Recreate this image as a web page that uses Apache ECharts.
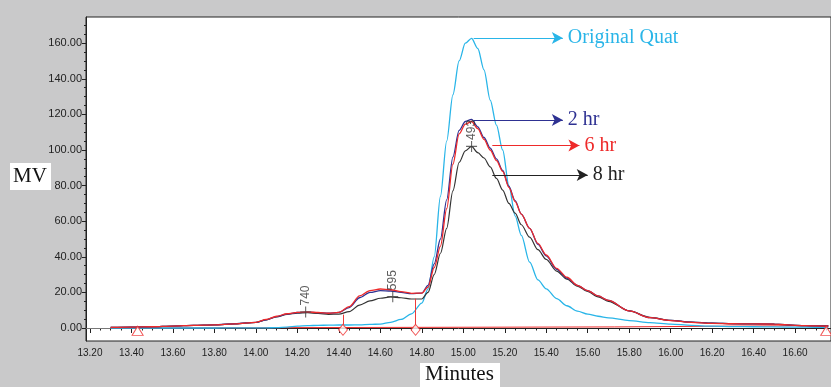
<!DOCTYPE html>
<html>
<head>
<meta charset="utf-8">
<script src="https://cdn.jsdelivr.net/npm/echarts@6/dist/echarts.min.js"></script>
<style>
  html, body { margin: 0; padding: 0; background: #c9c9ca; }
  #main { width: 831px; height: 387px; }
</style>
</head>
<body>
<div id="main"></div>
<script>
// retention time (minutes) shared by all traces
var minutes = [13.30, 13.40, 13.50, 13.60, 13.70, 13.80, 13.90, 14.00, 14.05, 14.10,
  14.15, 14.20, 14.25, 14.30, 14.35, 14.40, 14.45, 14.50, 14.55, 14.60,
  14.65, 14.70, 14.75, 14.80, 14.83, 14.86, 14.89, 14.92, 14.95, 14.98,
  15.01, 15.04, 15.07, 15.10, 15.13, 15.16, 15.19, 15.22, 15.25, 15.28,
  15.32, 15.36, 15.40, 15.45, 15.50, 15.55, 15.60, 15.65, 15.70, 15.80,
  15.90, 16.00, 16.10, 16.20, 16.30, 16.40, 16.50, 16.60, 16.70, 16.76];

var originalQuat = [0, 0, 0, 0, 0, 0, 0.1, 0.1, 0.1, 0.2,
  0.5, 1.0, 1.3, 1.5, 1.6, 1.7, 1.7, 1.8, 2.0, 2.2,
  3.2, 4.8, 7.9, 14, 22, 40, 74, 105, 131, 150,
  160, 162.7, 157, 145, 128, 114, 100, 80, 63, 52,
  37, 27, 22, 16.5, 12.5, 9.5, 7.8, 6.6, 5.7, 4.2,
  3.0, 2.2, 1.5, 1.0, 0.8, 0.7, 0.6, 0.5, 0.4, 0.3];

var hr2 = [0.3, 0.5, 0.7, 1.1, 1.5, 1.8, 2.4, 3.2, 4.6, 6.4,
  7.8, 8.7, 8.9, 8.6, 8.3, 8.8, 11.5, 17, 20, 21,
  20.8, 20, 19.3, 19.6, 24, 36, 50, 72, 96, 111,
  116, 117.2, 113, 107, 101, 95, 88.5, 79.5, 71.5, 64,
  56, 47, 40.5, 33, 28, 24, 21, 18, 15.5, 9.6,
  5.8, 4.3, 3.3, 2.7, 2.4, 2.3, 2.2, 1.5, 1.2, 1.0];

var hr6 = [0.3, 0.5, 0.7, 1.1, 1.5, 1.8, 2.3, 3.2, 4.8, 6.6,
  8.0, 8.8, 9.0, 8.7, 8.3, 8.8, 12.0, 18.0, 21.0, 21.9,
  21.5, 20.4, 19.5, 19.6, 23, 34, 46, 67, 92, 109,
  114.5, 116, 112, 106, 100, 94, 88, 79, 71, 64,
  56, 47.5, 41, 33.5, 28.5, 24, 21, 18, 15.5, 9.6,
  5.8, 4.2, 3.2, 2.6, 2.4, 2.3, 2.2, 1.5, 1.2, 1.0];

var hr8 = [0.3, 0.5, 0.7, 1.1, 1.5, 1.8, 2.3, 3.1, 4.6, 6.3,
  7.6, 8.4, 8.6, 8.2, 7.7, 7.8, 9.2, 12.9, 15.2, 16.7,
  17.5, 17.0, 16.3, 16.3, 20, 30, 42, 56, 77, 93,
  99.5, 102, 98.5, 95.5, 90.5, 84, 77.5, 70, 64.5, 58,
  51, 44, 38.5, 32, 27.5, 23.5, 20.5, 17.5, 15, 9.6,
  6.0, 4.3, 3.3, 2.7, 2.4, 2.3, 2.2, 1.5, 1.2, 1.0];

// integration baseline and markers
var baseMinutes = [13.30, 15.73, 15.73, 16.76];
var baseValues = [0, 0.6, 1.1, 1.4];
var dropMinutes = [14.42, 14.77];
var dropTops = [7.5, 16.5];
var triMinutes = [13.43, 16.75];

// peak annotations
var peakMinutes = [14.24, 14.66, 15.04];
var peakValues = [9.0, 17.6, 102];
var peakLabels = ['740', '595', '493'];

var xMajor = [13.2, 13.4, 13.6, 13.8, 14.0, 14.2, 14.4, 14.6, 14.8, 15.0, 15.2, 15.4, 15.6, 15.8, 16.0, 16.2, 16.4, 16.6];
var yMajor = [0, 20, 40, 60, 80, 100, 120, 140, 160];

var xMinor = [];
for (var i = 0; i < xMajor.length; i++) {
  for (var k = 1; k < 4; k++) xMinor.push(+(xMajor[i] + k * 0.05).toFixed(2));
}
var yMinor = [];
for (var j = 0; j < yMajor.length; j++) {
  for (var m = 1; m < 4; m++) yMinor.push(yMajor[j] + m * 5);
}

function pairs(xs, ys) {
  return xs.map(function (x, i) { return [x, ys[i]]; });
}

var serif = '"Liberation Serif", "DejaVu Serif", serif';
var sans = '"Liberation Sans", Arial, sans-serif';

function arrow(color, text, x1, x2, y) {
  return {
    silent: true,
    symbol: ['none', 'arrow'],
    symbolSize: [9, 11],
    lineStyle: { color: color, width: 1.2, type: 'solid' },
    label: {
      show: true, position: 'end', distance: 5, formatter: text,
      color: color, fontFamily: serif, fontSize: 20
    },
    data: [[{ coord: [x1, y] }, { coord: [x2, y] }]]
  };
}

function trace(name, values, color, width, mark) {
  return {
    name: name, type: 'line', data: pairs(minutes, values),
    symbol: 'none', smooth: 0.3, smoothMonotone: 'x',
    lineStyle: { color: color, width: width },
    markLine: mark
  };
}

var X_MIN = 13.181, X_MAX = 16.773, Y_MIN = -7.3, Y_MAX = 174.7;

var myChart = echarts.init(document.getElementById('main'));

var option = {
  animation: false,
  backgroundColor: '#c9c9ca',
  grid: {
    left: 86, right: 0, top: 17, bottom: 46,
    show: true, backgroundColor: '#ffffff', borderColor: '#222', borderWidth: 1
  },
  xAxis: [{
    type: 'value', min: X_MIN, max: X_MAX,
    axisLine: { lineStyle: { color: '#222' } },
    axisTick: { customValues: xMajor, length: 5, lineStyle: { color: '#222' } },
    axisLabel: {
      customValues: xMajor, margin: 7, fontSize: 10, fontFamily: sans, color: '#222',
      formatter: function (v) { return v.toFixed(2); }
    },
    splitLine: { show: false }
  }, {
    type: 'value', min: X_MIN, max: X_MAX, position: 'bottom',
    axisLine: { show: false },
    axisTick: { customValues: xMinor, length: 2.5, lineStyle: { color: '#222' } },
    axisLabel: { show: false },
    splitLine: { show: false }
  }],
  yAxis: [{
    type: 'value', min: Y_MIN, max: Y_MAX,
    axisLine: { show: true, lineStyle: { color: '#222' } },
    axisTick: { show: true, customValues: yMajor, length: 4, lineStyle: { color: '#222' } },
    axisLabel: {
      customValues: yMajor, margin: 4, fontSize: 11, fontFamily: sans, color: '#222',
      formatter: function (v) { return v.toFixed(2); }
    },
    splitLine: { show: false }
  }, {
    type: 'value', min: Y_MIN, max: Y_MAX, position: 'left', offset: 0,
    axisLine: { show: false },
    axisTick: { show: true, customValues: yMinor, length: 2, lineStyle: { color: '#222' } },
    axisLabel: { show: false },
    splitLine: { show: false }
  }],
  graphic: [
    { type: 'rect', left: 10, top: 163, shape: { width: 41, height: 27 }, style: { fill: '#fff' }, z: 100 },
    { type: 'text', left: 13, top: 166, style: { text: 'MV', font: '21px ' + serif, fill: '#111' }, z: 101 },
    { type: 'rect', left: 420, top: 363, shape: { width: 80, height: 24 }, style: { fill: '#fff' }, z: 100 },
    { type: 'text', left: 425, top: 364, style: { text: 'Minutes', font: '21px ' + serif, fill: '#111' }, z: 101 }
  ],
  series: [
    {
      name: 'baseline', type: 'line', data: pairs(baseMinutes, baseValues),
      symbol: 'none', lineStyle: { color: '#ee2a2a', width: 1 }, z: 1,
      markLine: {
        silent: true, symbol: 'none', label: { show: false },
        lineStyle: { color: '#ee3a3a', width: 1, type: 'solid' },
        data: dropMinutes.map(function (x, i) {
          return [{ coord: [x, 0] }, { coord: [x, dropTops[i]] }];
        }).concat([[{ coord: [X_MIN, 0], lineStyle: { color: '#777' } }, { coord: [13.30, 0], lineStyle: { color: '#777' } }]])
      }
    },
    trace('Original Quat', originalQuat, '#29b5e8', 1.3, arrow('#29b5e8', 'Original Quat', 15.05, 15.48, 162.9)),
    trace('8 hr', hr8, '#333', 1.2, arrow('#222', '8 hr', 15.14, 15.60, 86)),
    trace('2 hr', hr2, '#2e3192', 1.3, arrow('#2e3192', '2 hr', 15.05, 15.48, 116.9)),
    trace('6 hr', hr6, '#ee2a2a', 1.3, arrow('#ee2a2a', '6 hr', 15.14, 15.56, 102.5)),
    {
      name: 'drops', type: 'scatter', data: dropMinutes.map(function (x) { return [x, -1]; }),
      symbol: 'diamond', symbolSize: [9, 11],
      itemStyle: { color: '#fff', borderColor: '#ee2a2a', borderWidth: 1 }, z: 5
    },
    {
      name: 'ends', type: 'scatter', data: triMinutes.map(function (x) { return [x, -1.6]; }),
      symbol: 'triangle', symbolSize: [11, 9],
      itemStyle: { color: '#fff', borderColor: '#ee2a2a', borderWidth: 1 }, z: 5
    },
    {
      name: 'peaks', type: 'scatter', data: pairs(peakMinutes, peakValues),
      symbol: 'path://M9,0H11V9H20V11H11V20H9V11H0V9H9Z', symbolSize: 11,
      itemStyle: { color: '#444' }, z: 6,
      label: {
        show: true, position: 'top', distance: 1, rotate: 90,
        align: 'left', verticalAlign: 'middle',
        fontSize: 12, fontFamily: sans, color: '#333',
        formatter: function (p) { return peakLabels[p.dataIndex]; }
      }
    }
  ]
};

myChart.setOption(option);
</script>
</body>
</html>
